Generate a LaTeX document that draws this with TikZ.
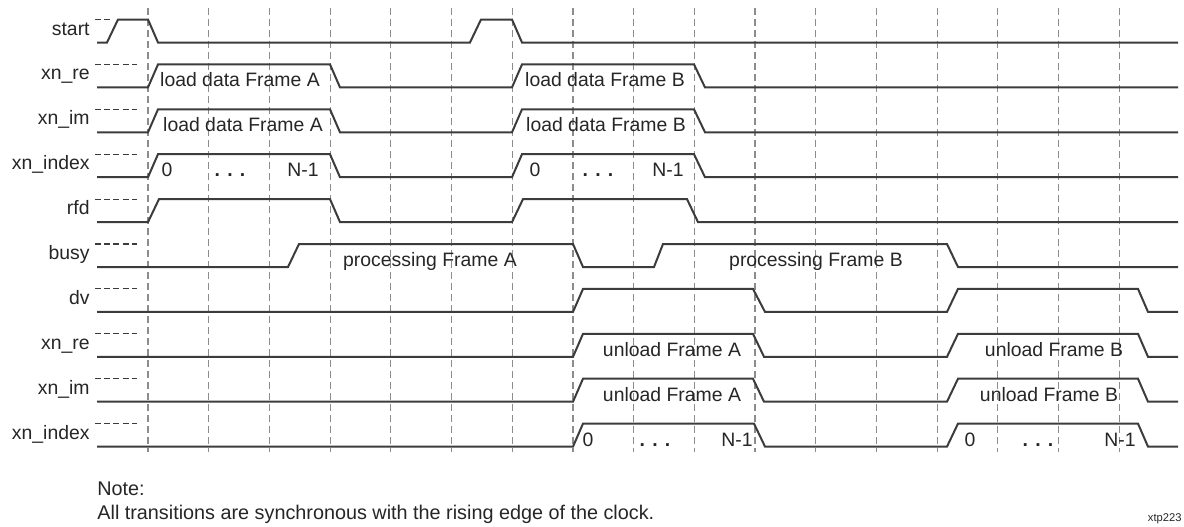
\documentclass[tikz,border=0pt]{standalone}
\usepackage{fontspec}
\setmainfont{Liberation Sans}
\definecolor{wavecol}{HTML}{3C3C3C}
\definecolor{gridcol}{HTML}{8C8C8C}
\definecolor{txtcol}{HTML}{262626}
\begin{document}
\begin{tikzpicture}[x=0.5pt,y=-0.5pt,
  wave/.style={draw=wavecol,line width=1pt,line join=miter},
  gridline/.style={draw=gridcol,line width=0.6pt,dash pattern=on 3.5pt off 2pt},
  stub/.style={draw=wavecol,line width=0.55pt,dash pattern=on 3pt off 1.6pt},
  lbl/.style={anchor=base east,inner sep=0pt,text=txtcol,font=\fontsize{9.7}{11}\selectfont},
  wtxt/.style={anchor=base,inner sep=0pt,text=txtcol,font=\fontsize{9.7}{11}\selectfont},
  notetxt/.style={anchor=base west,inner sep=0pt,text=txtcol,font=\fontsize{9.9}{11}\selectfont},
  tagtxt/.style={anchor=base east,inner sep=0pt,text=txtcol,font=\fontsize{5.6}{7}\selectfont}]
\useasboundingbox (0,0) rectangle (1184,526);
\fill[white] (0,0) rectangle (1184,526);
% grid
\foreach \k in {0,...,16}{
  \coordinate (gt\k) at ({148+60.7*\k},8);
  \coordinate (gb\k) at ({148+60.7*\k},452);
  \draw[gridline] (gt\k) -- (gb\k);
}
% start
\begin{scope}[shift={(0,19.5)}]
  \node[lbl] (l0) at (90,15.5) {start};
  \draw[stub] (95,0) -- (112,0);
  \draw[wave] (97,23) -- (107,23) -- (118,0) -- (148,0) -- (158,23) -- (470,23) -- (481,0) -- (512,0) -- (522,23) -- (1178,23);
\end{scope}
% xn_re
\begin{scope}[shift={(0,64.4)}]
  \node[lbl] (l1) at (90,15.5) {xn\_re};
  \draw[stub] (95,0) -- (137,0);
  \draw[wave] (97,23) -- (148,23) -- (158,0) -- (330,0) -- (340,23) -- (512,23) -- (522,0) -- (694,0) -- (705,23) -- (1178,23);
  \node[wtxt] (t1a) at (240,22.5) {load data Frame A};
  \node[wtxt] (t1b) at (605,22.5) {load data Frame B};
\end{scope}
% xn_im
\begin{scope}[shift={(0,109.3)}]
  \node[lbl] (l2) at (90,15.5) {xn\_im};
  \draw[stub] (95,0) -- (137,0);
  \draw[wave] (97,23) -- (148,23) -- (158,0) -- (330,0) -- (340,23) -- (512,23) -- (522,0) -- (694,0) -- (705,23) -- (1178,23);
  \node[wtxt] (t2a) at (243,22.5) {load data Frame A};
  \node[wtxt] (t2b) at (606,22.5) {load data Frame B};
\end{scope}
% xn_index
\begin{scope}[shift={(0,154.2)}]
  \node[lbl] (l3) at (90,15.5) {xn\_index};
  \draw[stub] (95,0) -- (137,0);
  \draw[wave] (97,23) -- (148,23) -- (158,0) -- (330,0) -- (340,23) -- (512,23) -- (522,0) -- (694,0) -- (705,23) -- (1178,23);
  \node[wtxt] (t3a) at (167,22.5) {0};
  \node[wtxt] (t3b) at (230,22.5) {\textbf{. . .}};
  \node[wtxt] (t3c) at (303,22.5) {N-1};
  \node[wtxt] (t3d) at (535,22.5) {0};
  \node[wtxt] (t3e) at (598,22.5) {\textbf{. . .}};
  \node[wtxt] (t3f) at (668,22.5) {N-1};
\end{scope}
% rfd
\begin{scope}[shift={(0,199.1)}]
  \node[lbl] (l4) at (90,15.5) {rfd};
  \draw[stub] (95,0) -- (137,0);
  \draw[wave] (97,23) -- (148,23) -- (159,0) -- (330,0) -- (340,23) -- (512,23) -- (523,0) -- (687,0) -- (698,23) -- (1178,23);
\end{scope}
% busy
\begin{scope}[shift={(0,244)}]
  \node[lbl] (l5) at (90,15.5) {busy};
  \draw[stub] (95,0) -- (137,0);
  \draw[wave] (97,23) -- (288,23) -- (299,0) -- (573,0) -- (583,23) -- (654,23) -- (663,0) -- (947,0) -- (958,23) -- (1178,23);
  \node[wtxt] (t5a) at (430,22.5) {processing Frame A};
  \node[wtxt] (t5b) at (816,22.5) {processing Frame B};
\end{scope}
% dv
\begin{scope}[shift={(0,288.9)}]
  \node[lbl] (l6) at (90,15.5) {dv};
  \draw[stub] (95,0) -- (137,0);
  \draw[wave] (97,23) -- (573,23) -- (583,0) -- (753,0) -- (765,23) -- (947,23) -- (958,0) -- (1138,0) -- (1148,23) -- (1178,23);
\end{scope}
% xn_re (out)
\begin{scope}[shift={(0,333.8)}]
  \node[lbl] (l7) at (90,15.5) {xn\_re};
  \draw[stub] (95,0) -- (137,0);
  \draw[wave] (97,23) -- (573,23) -- (583,0) -- (753,0) -- (764,23) -- (947,23) -- (958,0) -- (1138,0) -- (1148,23) -- (1178,23);
  \node[wtxt] (t7a) at (672,22.5) {unload Frame A};
  \node[wtxt] (t7b) at (1054,22.5) {unload Frame B};
\end{scope}
% xn_im (out)
\begin{scope}[shift={(0,378.7)}]
  \node[lbl] (l8) at (90,15.5) {xn\_im};
  \draw[stub] (95,0) -- (137,0);
  \draw[wave] (97,23) -- (573,23) -- (583,0) -- (753,0) -- (764,23) -- (947,23) -- (958,0) -- (1138,0) -- (1148,23) -- (1178,23);
  \node[wtxt] (t8a) at (672,22.5) {unload Frame A};
  \node[wtxt] (t8b) at (1049,22.5) {unload Frame B};
\end{scope}
% xn_index (out)
\begin{scope}[shift={(0,423.6)}]
  \node[lbl] (l9) at (90,15.5) {xn\_index};
  \draw[stub] (95,0) -- (137,0);
  \draw[wave] (97,23) -- (573,23) -- (583,0) -- (754,0) -- (765,23) -- (947,23) -- (958,0) -- (1138,0) -- (1148,23) -- (1178,23);
  \node[wtxt] (t9a) at (588,22.5) {0};
  \node[wtxt] (t9b) at (655,22.5) {\textbf{. . .}};
  \node[wtxt] (t9c) at (737,22.5) {N-1};
  \node[wtxt] (t9d) at (970,22.5) {0};
  \node[wtxt] (t9e) at (1038,22.5) {\textbf{. . .}};
  \node[wtxt] (t9f) at (1120,22.5) {N-1};
\end{scope}
% note
\node[notetxt] (note1) at (97,495) {Note:};
\node[notetxt] (note2) at (97,519) {All transitions are synchronous with the rising edge of the clock.};
\node[tagtxt] (tag) at (1182,521) {xtp223};
\end{tikzpicture}
\end{document}
